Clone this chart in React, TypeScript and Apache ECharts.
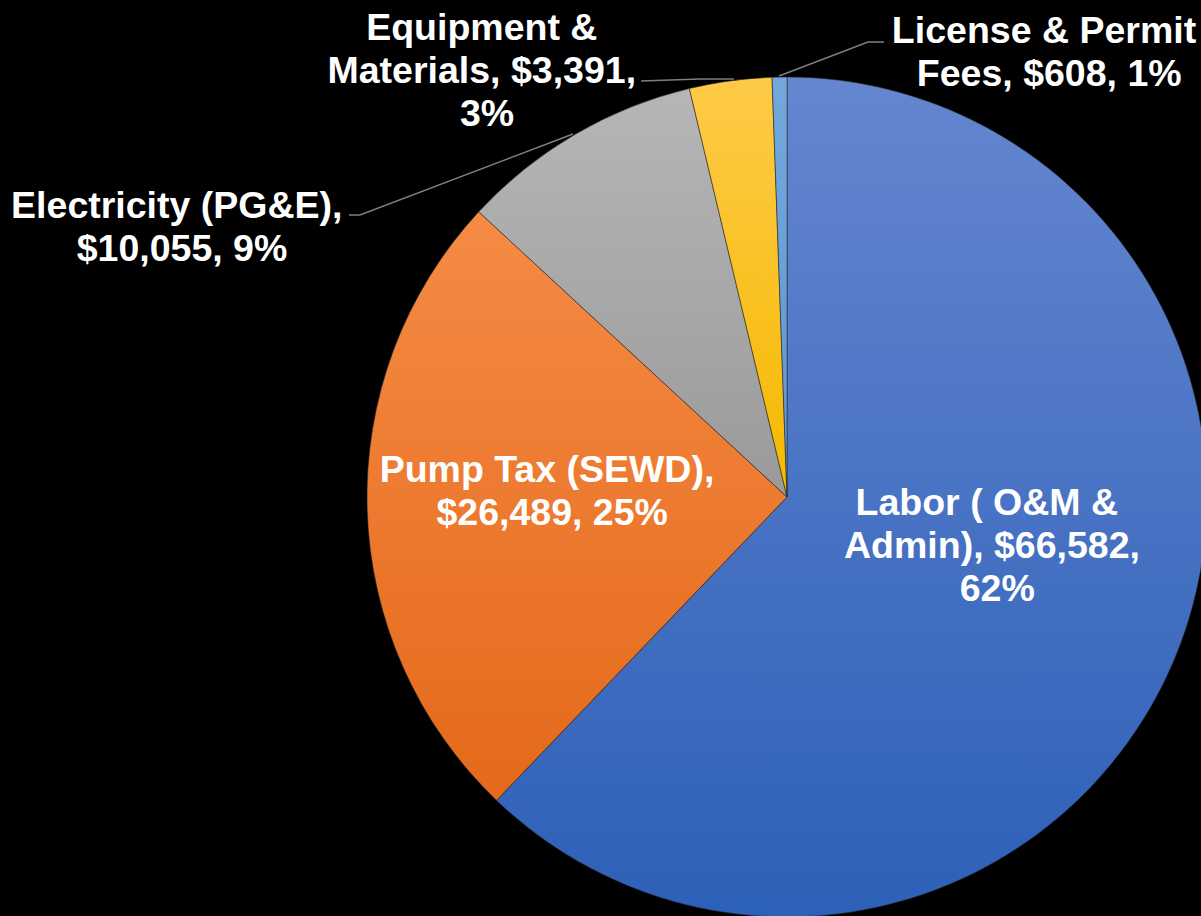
import React, { useEffect, useRef } from "react";
import * as echarts from "echarts";

const CATEGORIES = [
  "Labor ( O&M & Admin)",
  "Pump Tax (SEWD)",
  "Electricity (PG&E)",
  "Equipment & Materials",
  "License & Permit Fees",
];
const VALUES = [66582, 26489, 10055, 3391, 608];
const INSIDE = [true, true, false, false, false];
const COLORS_TOP = ["#6586cf", "#f58b45", "#b6b6b6", "#ffca47", "#72a8dd"];
const COLORS_BOTTOM = ["#2d60b8", "#e4691a", "#9a9a9a", "#f5b900", "#5b99d4"];
const WRAP_WIDTHS = [305, 345, 345, 325, 308];
// label anchor (centre) and leader line points, in pixels
const LABEL_POS: [number, number][] = [
  [992, 545],
  [547, 490],
  [182, 226],
  [487, 70],
  [1044, 51],
];
const LEADERS: ([number, number][] | null)[] = [
  null,
  null,
  [[573, 134], [360, 215], [349, 215]],
  [[734, 79], [700, 79], [641, 81]],
  [[779, 76], [868, 42], [884, 42]],
];

export default function App() {
  const ref = useRef<HTMLDivElement>(null);
  useEffect(() => {
    if (!ref.current) return;
    const chart = echarts.init(ref.current, null, { renderer: "svg" });
    const data = CATEGORIES.map((name, i) => ({
      name,
      value: VALUES[i],
      itemStyle: {
        color: new echarts.graphic.LinearGradient(0, 0, 0, 1, [
          { offset: 0, color: COLORS_TOP[i] },
          { offset: 1, color: COLORS_BOTTOM[i] },
        ]),
      },
      label: {
        position: INSIDE[i] ? "inside" : "outside",
        width: WRAP_WIDTHS[i],
      },
      labelLine: { show: !INSIDE[i] },
    }));
    chart.setOption({
      animation: false,
      backgroundColor: "#000000",
      series: [
        {
          type: "pie",
          center: [787, 497],
          radius: [0, 420],
          startAngle: 90,
          clockwise: true,
          avoidLabelOverlap: false,
          percentPrecision: 0,
          itemStyle: { borderColor: "rgba(40,40,40,0.7)", borderWidth: 0.8 },
          label: {
            show: true,
            color: "#ffffff",
            fontFamily: "Liberation Sans, Arial, sans-serif",
            fontWeight: "bold",
            fontSize: 37.5,
            lineHeight: 43,
            align: "center",
            overflow: "break",
            formatter: (p: any) =>
              `${p.name}, $${Number(p.value).toLocaleString("en-US")}, ${p.percent}%`,
          },
          labelLine: {
            show: true,
            lineStyle: { color: "#7f7f7f", width: 1.5 },
          },
          labelLayout: (params: any) => {
            const i = params.dataIndex;
            const res: any = {
              x: LABEL_POS[i][0],
              y: LABEL_POS[i][1],
              align: "center",
              verticalAlign: "middle",
            };
            if (LEADERS[i]) res.labelLinePoints = LEADERS[i];
            return res;
          },
          emphasis: { disabled: true },
          data,
        },
      ],
    });
    return () => chart.dispose();
  }, []);
  return (
    <div
      ref={ref}
      style={{
        position: "fixed",
        left: 0,
        top: 0,
        width: 1201,
        height: 916,
        background: "#000",
      }}
    />
  );
}
